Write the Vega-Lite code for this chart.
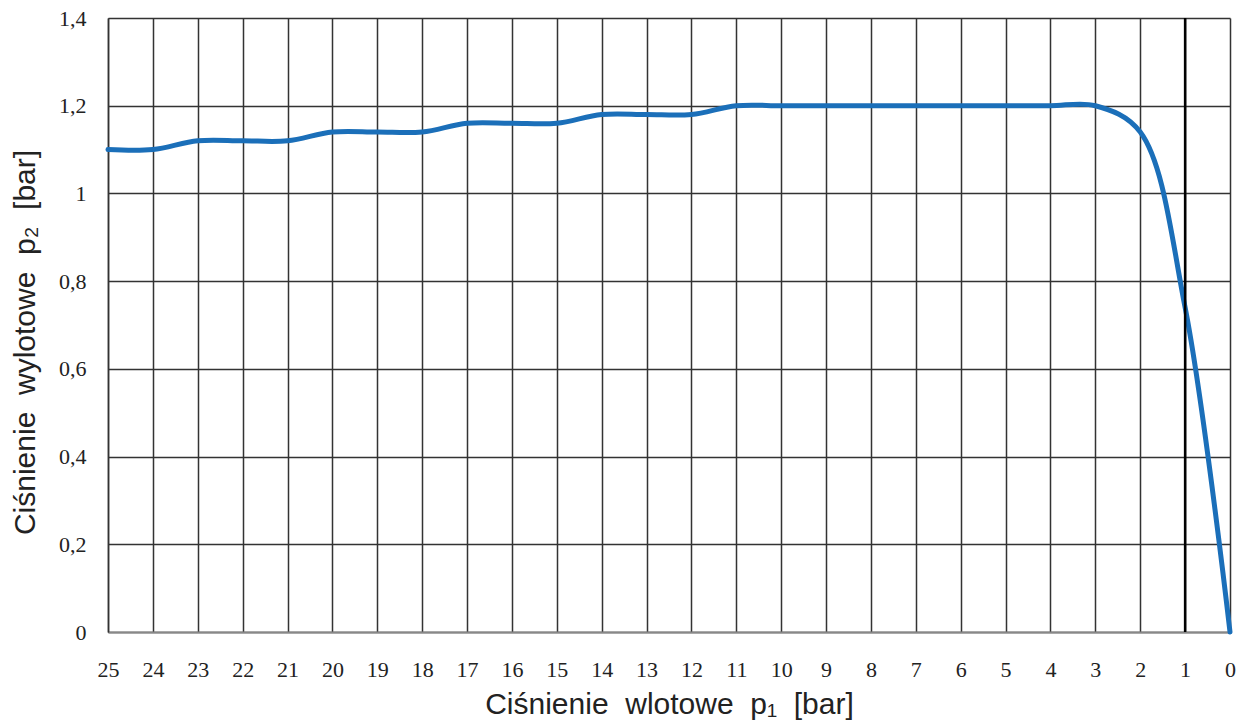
{
  "$schema": "https://vega.github.io/schema/vega-lite/v6.json",
  "width": 1122,
  "height": 614,
  "autosize": {"type": "none"},
  "padding": {"left": 108, "top": 18, "right": 13, "bottom": 95},
  "background": "white",
  "config": {
    "view": {"stroke": null}
  },
  "encoding": {
    "x": {
      "field": "p1", "type": "quantitative",
      "scale": {"domain": [0, 25], "reverse": true, "nice": false},
      "axis": {
        "values": [0,1,2,3,4,5,6,7,8,9,10,11,12,13,14,15,16,17,18,19,20,21,22,23,24,25],
        "title": "Ciśnienie\u00a0 wlotowe\u00a0 p₁\u00a0 [bar]",
        "labelFont": "Liberation Serif",
        "labelFontSize": 22,
        "labelColor": "#222",
        "titleFont": "Liberation Sans",
        "titleFontSize": 30,
        "titleFontWeight": "normal",
        "titleColor": "#222",
        "gridColor": "#333",
        "gridWidth": 1.5,
        "gridOpacity": 1,
        "ticks": false,
        "labelPadding": 27,
        "titlePadding": 9,
        "domainColor": "#888",
        "domainWidth": 2,
        "labelFlush": false
      }
    }
  },
  "layer": [
    {
      "data": {
        "values": [
          {"p1": 25, "p2": 1.1},
          {"p1": 24, "p2": 1.1},
          {"p1": 23, "p2": 1.12},
          {"p1": 22, "p2": 1.12},
          {"p1": 21, "p2": 1.12},
          {"p1": 20, "p2": 1.14},
          {"p1": 19, "p2": 1.14},
          {"p1": 18, "p2": 1.14},
          {"p1": 17, "p2": 1.16},
          {"p1": 16, "p2": 1.16},
          {"p1": 15, "p2": 1.16},
          {"p1": 14, "p2": 1.18},
          {"p1": 13, "p2": 1.18},
          {"p1": 12, "p2": 1.18},
          {"p1": 11, "p2": 1.2},
          {"p1": 10, "p2": 1.2},
          {"p1": 9, "p2": 1.2},
          {"p1": 8, "p2": 1.2},
          {"p1": 7, "p2": 1.2},
          {"p1": 6, "p2": 1.2},
          {"p1": 5, "p2": 1.2},
          {"p1": 4, "p2": 1.2},
          {"p1": 3, "p2": 1.2},
          {"p1": 2, "p2": 1.14},
          {"p1": 1, "p2": 0.74},
          {"p1": 0, "p2": 0}
        ]
      },
      "mark": {"type": "line", "interpolate": "catmull-rom", "color": "#1b6fb9", "strokeWidth": 5, "strokeCap": "round"},
      "encoding": {
        "y": {
          "field": "p2", "type": "quantitative",
          "scale": {"domain": [0, 1.4], "nice": false},
          "axis": {
            "values": [0, 0.2, 0.4, 0.6, 0.8, 1, 1.2, 1.4],
            "labelExpr": "replace(format(datum.value, '~g'), '.', ',')",
            "title": "Ciśnienie\u00a0 wylotowe\u00a0 p₂\u00a0 [bar]",
            "labelFont": "Liberation Serif",
            "labelFontSize": 22,
            "labelColor": "#222",
            "titleFont": "Liberation Sans",
            "titleFontSize": 30,
            "titleFontWeight": "normal",
            "titleColor": "#222",
            "titleY": 324,
            "gridColor": "#333",
            "gridWidth": 1.5,
            "gridOpacity": 1,
            "ticks": false,
            "labelPadding": 22,
            "titlePadding": 18,
            "domainColor": "#333",
            "domainWidth": 1.5,
            "labelFlush": false
          }
        }
      }
    },
    {
      "data": {"values": [{"p1": 1}]},
      "mark": {"type": "rule", "color": "#000", "strokeWidth": 2.5},
      "encoding": {}
    }
  ]
}
